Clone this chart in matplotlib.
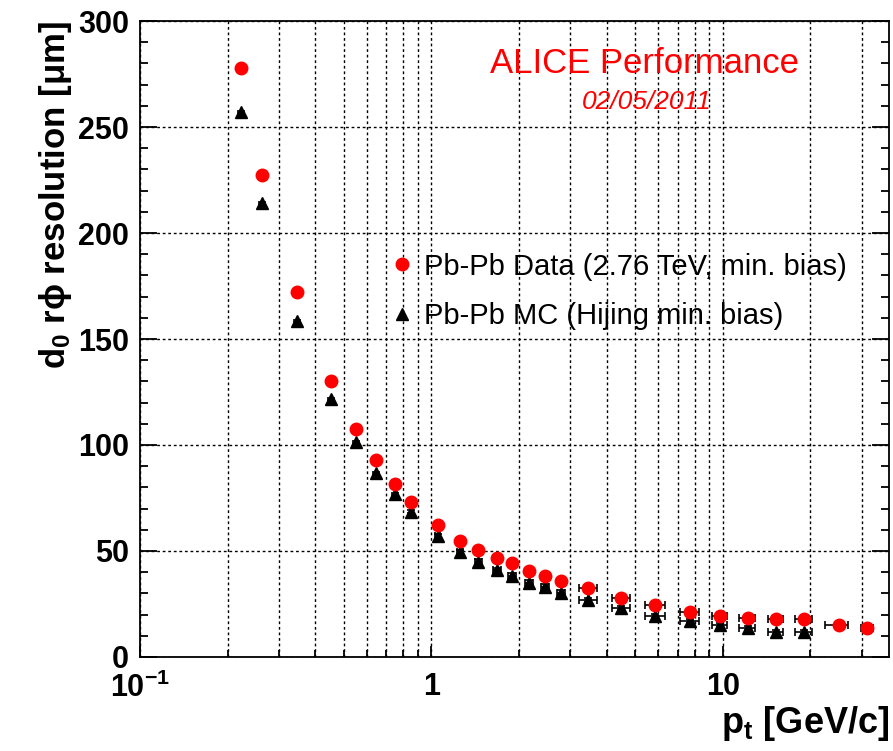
import numpy as np
import matplotlib.pyplot as plt
from matplotlib.lines import Line2D
from matplotlib.ticker import FixedLocator, NullFormatter

plt.rcParams['font.family'] = ['Liberation Sans', 'DejaVu Sans']
plt.rcParams['mathtext.fontset'] = 'custom'
plt.rcParams['mathtext.rm'] = 'Liberation Sans:bold'
plt.rcParams['mathtext.bf'] = 'Liberation Sans:bold'
plt.rcParams['mathtext.it'] = 'Liberation Sans:bold'
plt.rcParams['mathtext.default'] = 'rm'

# pt bin centres and horizontal bar ends [GeV/c]
pt = [0.222, 0.262, 0.346, 0.452, 0.551, 0.645, 0.75, 0.851, 1.05, 1.25, 1.45,
      1.68, 1.89, 2.16, 2.45, 2.78, 3.44, 4.47, 5.85, 7.7, 9.77, 12.2, 15.2,
      19.0, 25.0, 31.2]
pt_lo = [0.222, 0.262, 0.346, 0.452, 0.551, 0.645, 0.75, 0.851, 1.03, 1.22, 1.41,
         1.63, 1.83, 2.09, 2.37, 2.69, 3.21, 4.18, 5.43, 7.11, 9.15, 11.4, 14.3,
         17.7, 22.4, 29.9]
pt_hi = [0.222, 0.262, 0.346, 0.452, 0.551, 0.645, 0.75, 0.851, 1.07, 1.28, 1.49,
         1.73, 1.95, 2.23, 2.53, 2.87, 3.70, 4.82, 6.32, 8.29, 10.35, 12.9, 16.1,
         20.3, 26.9, 32.8]

# d0 r-phi resolution [um]
data_res = [277.8, 227.4, 172.2, 130.2, 107.5, 92.9, 81.6, 73.1, 62.3, 54.7, 50.5,
            46.7, 44.3, 40.6, 38.2, 35.8, 32.5, 27.8, 24.5, 21.2, 19.3, 18.4, 17.9,
            17.9, 15.1, 13.7]
mc_res = [257.0, 214.0, 158.5, 121.7, 101.4, 86.8, 76.9, 68.4, 57.1, 49.5, 44.8,
          41.0, 38.2, 34.9, 33.0, 30.2, 26.9, 23.1, 19.3, 17.0, 15.1, 13.7, 11.8,
          11.8]
mc_err = [0.5, 0.5, 0.5, 0.5, 0.5, 0.6, 0.6, 0.7, 0.8, 1.0, 1.2,
          1.2, 1.2, 1.2, 1.2, 1.2, 1.0, 1.0, 1.0, 1.0, 1.0, 1.0, 1.0,
          1.0]

pt = np.array(pt)
xerr = np.array([pt - np.array(pt_lo), np.array(pt_hi) - pt])
n_mc = len(mc_res)

fig = plt.figure(figsize=(8.93, 7.51), dpi=100)
ax = fig.add_axes([0.1568, 0.1252, 0.8387, 0.8468])

ax.errorbar(pt[:n_mc], mc_res, xerr=xerr[:, :n_mc], yerr=mc_err, fmt='^', color='black',
            ms=8.5, elinewidth=1.2, capsize=3, capthick=1.2, zorder=3)
ax.errorbar(pt, data_res, xerr=xerr, fmt='o', color='#ff0000', mec='#ff0000',
            ecolor='black', ms=9, elinewidth=1.2, capsize=3, capthick=1.2, zorder=4)

ax.set_xscale('log')
ax.set_xlim(0.1, 37.2)
ax.set_ylim(0, 300)

ax.xaxis.set_major_locator(FixedLocator([0.1, 1, 10]))
minors = [m * d for d in (0.1, 1, 10) for m in range(2, 10) if m * d < 37.2]
ax.xaxis.set_minor_locator(FixedLocator(minors))
ax.xaxis.set_minor_formatter(NullFormatter())
ax.set_xticklabels(['10$^{-1}$', '1', '10'])
ax.set_yticks(np.arange(0, 301, 50))
ax.set_yticks(np.arange(0, 301, 10), minor=True)

ax.tick_params(which='both', direction='in', width=1.3, labelsize=22, right=True)
ax.tick_params(axis='y', which='major', length=12, pad=8)
ax.tick_params(axis='y', which='minor', length=6)
ax.tick_params(axis='x', which='major', length=8, pad=11)
ax.tick_params(axis='x', which='minor', length=5)
for lab in ax.get_xticklabels() + ax.get_yticklabels():
    lab.set_fontweight('bold')
for s in ax.spines.values():
    s.set_linewidth(1.3)

ax.grid(True, which='major', axis='y', color='black', ls=(0, (2, 2)), lw=1.0)
ax.grid(True, which='both', axis='x', color='black', ls=(0, (2, 2)), lw=1.0)

ax.set_ylabel(r'd$_0$ r$\phi$ resolution [$\mu$m]', fontsize=25, fontweight='bold',
              loc='top', labelpad=3)
ax.set_xlabel(r'p$_{t}$ [GeV/c]', fontsize=26, fontweight='bold', loc='right',
              labelpad=0)

handles = [Line2D([], [], ls='none', marker='o', color='#ff0000', ms=9),
           Line2D([], [], ls='none', marker='^', color='black', ms=8.5)]
labels = ['Pb-Pb Data (2.76 TeV, min. bias)', 'Pb-Pb MC (Hijing min. bias)']
ax.legend(handles, labels, loc='upper left', bbox_to_anchor=(0.331, 0.636),
          frameon=False, fontsize=21, borderpad=0, borderaxespad=0,
          handletextpad=0.28, handlelength=0.95, labelspacing=0.75)

ax.text(0.673, 0.934, 'ALICE Performance', transform=ax.transAxes, color='#ff0000',
        fontsize=25, ha='center', va='center')
ax.text(0.676, 0.873, '02/05/2011', transform=ax.transAxes, color='#ff0000',
        fontsize=19, style='italic', ha='center', va='center')

fig.savefig('out.png', dpi=100)
